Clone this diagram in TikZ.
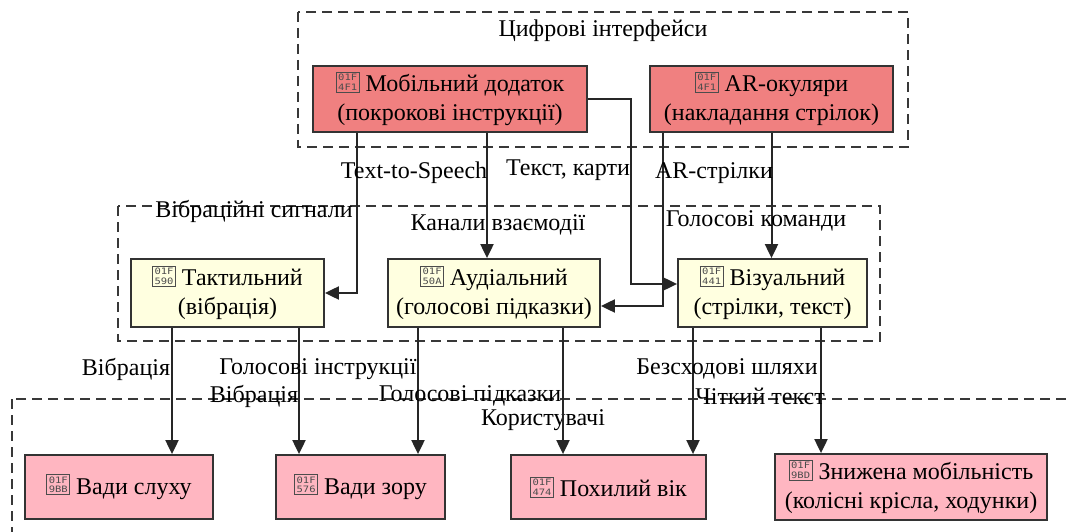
\documentclass[tikz,border=0pt]{standalone}
\usepackage{fontspec}
\setmainfont{Liberation Serif}
\newfontfamily\hexfont{DejaVu Sans Mono}
\usetikzlibrary{arrows.meta,calc}

\definecolor{ifacered}{HTML}{F08080}
\definecolor{chanyellow}{HTML}{FFFFE0}
\definecolor{userpink}{HTML}{FFB6C1}

% placeholder box for a missing emoji glyph, showing its code point
\newcommand\hexbox[2]{\raisebox{1.5pt}{{\color{black!70}\setlength\fboxsep{1.5pt}\setlength\fboxrule{0.9pt}\fbox{\resizebox{19pt}{16pt}{\hexfont\fontsize{8}{8.6}\selectfont\vbox{\hbox{#1}\hbox{#2}}}}}}}

\tikzset{
  cluster/.style={draw=black!78, line width=2pt, dash pattern=on 10pt off 6pt},
  box/.style={draw=black!80, line width=1.8pt, align=center, inner sep=0pt},
  iface/.style={box, fill=ifacered},
  chan/.style={box, fill=chanyellow},
  user/.style={box, fill=userpink},
  lbl/.style={inner sep=0pt},
  arr/.style={draw=black!85, line width=2pt, -{Triangle[length=14pt,width=13pt]}},
}

\begin{document}
\begin{tikzpicture}[x=1pt, y=-1pt, font=\fontsize{24}{29}\selectfont]
\useasboundingbox (0,0) rectangle (1068,532);
\clip (0,0) rectangle (1068,532);

% groups
\draw[cluster] (298,12) rectangle (908,147);
\draw[cluster] (118,206) rectangle (880,341);
\draw[cluster] (12,399) rectangle (1090,560);
\node[lbl] (gIface) at (603,31) {Цифрові інтерфейси};
\node[lbl] (gChan) at (498,225) {Канали взаємодії};
\node[lbl] (gUser) at (543,420) {Користувачі};

% digital interfaces
\node[iface, minimum width=274pt, minimum height=66pt] (mob) at (450,99)
  {\hexbox{01F}{4F1} Мобільний додаток\\(покрокові інструкції)};
\node[iface, minimum width=243pt, minimum height=66pt] (ar) at (771.5,99)
  {\hexbox{01F}{4F1} AR-окуляри\\(накладання стрілок)};

% interaction channels
\node[chan, minimum width=193pt, minimum height=68pt] (tac) at (227.5,293)
  {\hexbox{01F}{590} Тактильний\\(вібрація)};
\node[chan, minimum width=212pt, minimum height=68pt] (aud) at (494,293)
  {\hexbox{01F}{50A} Аудіальний\\(голосові підказки)};
\node[chan, minimum width=189pt, minimum height=68pt] (vis) at (772.5,293)
  {\hexbox{01F}{441} Візуальний\\(стрілки, текст)};

% users
\node[user, minimum width=188pt, minimum height=64pt] (hear) at (119,487)
  {\hexbox{01F}{9BB} Вади слуху};
\node[user, minimum width=169pt, minimum height=64pt] (sight) at (360.5,487)
  {\hexbox{01F}{576} Вади зору};
\node[user, minimum width=195pt, minimum height=64pt] (old) at (608.5,487)
  {\hexbox{01F}{474} Похилий вік};
\node[user, minimum width=272pt, minimum height=66pt] (mobil) at (911,487)
  {\hexbox{01F}{9BD} Знижена мобільність\\(колісні крісла, ходунки)};

% vertical tracks of the connectors
\coordinate (x172) at (172,0);
\coordinate (x299) at (299,0);
\coordinate (x357) at (357,0);
\coordinate (x418) at (418,0);
\coordinate (x487) at (487,0);
\coordinate (x563) at (563,0);
\coordinate (x663) at (663,0);
\coordinate (x693) at (693,0);
\coordinate (x821) at (821,0);

% interfaces -> channels
\draw[arr] (x357 |- mob.south) |- (tac.east);
\draw[arr] (x487 |- mob.south) -- (x487 |- aud.north);
\draw[arr] (mob.east) -| ($(vis.west)+(-46,-9)$) -- ($(vis.west)+(0,-9)$);
\draw[arr] (x663 |- ar.south) |- ($(aud.east)+(0,13)$);
\draw[arr] (ar.south) -- (ar.south |- vis.north);

\node[lbl] (lVib) at (254,211) {Вібраційні сигнали};
\node[lbl] (lTts) at (414,173) {Text-to-Speech};
\node[lbl] (lMap) at (568,170) {Текст, карти};
\node[lbl] (lArs) at (714,173) {AR-стрілки};
\node[lbl] (lCmd) at (756,221) {Голосові команди};

% channels -> users
\draw[arr] (x172 |- tac.south) -- (x172 |- hear.north);
\draw[arr] (x299 |- tac.south) -- (x299 |- sight.north);
\draw[arr] (x418 |- aud.south) -- (x418 |- sight.north);
\draw[arr] (x563 |- aud.south) -- (x563 |- old.north);
\draw[arr] (x693 |- vis.south) -- (x693 |- old.north);
\draw[arr] (x821 |- vis.south) -- (x821 |- mobil.north);

\node[lbl] (lVib1) at (126,369) {Вібрація};
\node[lbl] (lVoiceIns) at (318,369) {Голосові інструкції};
\node[lbl] (lVib2) at (254,396) {Вібрація};
\node[lbl] (lVoiceHint) at (470,396) {Голосові підказки};
\node[lbl] (lPaths) at (727,369) {Безсходові шляхи};
\node[lbl] (lText) at (760,396) {Чіткий текст};
\end{tikzpicture}
\end{document}
